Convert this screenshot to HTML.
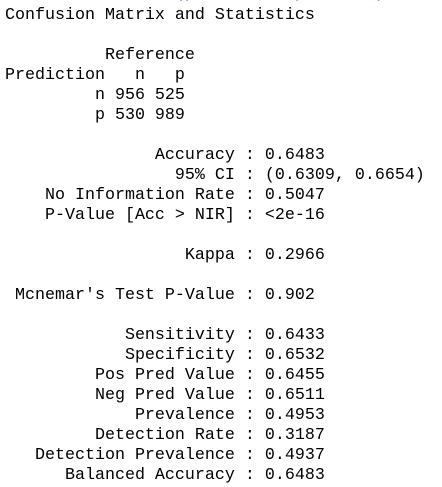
<!DOCTYPE html>
<html><head><meta charset="utf-8"><style>
html,body{margin:0;padding:0;background:#fff;width:442px;height:487px;overflow:hidden}
pre{position:absolute;left:5px;top:6px;margin:0;font-family:"Liberation Mono",monospace;font-size:16.67px;line-height:20px;color:#000}
.cmd{position:absolute;left:5px;top:-16px;margin:0;font-family:"Liberation Mono",monospace;font-size:16.67px;line-height:20px;color:#1a1aff}
</style></head><body>
<pre class="cmd">                 (pred, ref, positive)</pre>
<pre>Confusion Matrix and Statistics

          Reference
Prediction   n   p
         n 956 525
         p 530 989

               Accuracy : 0.6483
                 95% CI : (0.6309, 0.6654)
    No Information Rate : 0.5047
    P-Value [Acc &gt; NIR] : &lt;2e-16

                  Kappa : 0.2966

 Mcnemar's Test P-Value : 0.902

            Sensitivity : 0.6433
            Specificity : 0.6532
         Pos Pred Value : 0.6455
         Neg Pred Value : 0.6511
             Prevalence : 0.4953
         Detection Rate : 0.3187
   Detection Prevalence : 0.4937
      Balanced Accuracy : 0.6483</pre>
</body></html>
